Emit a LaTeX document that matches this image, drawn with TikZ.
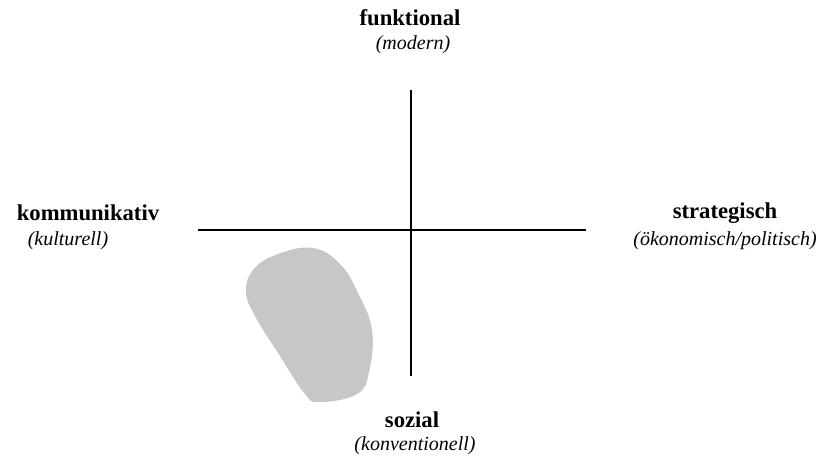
\documentclass[tikz,border=0pt]{standalone}
\usepackage{fontspec}
\setmainfont{Liberation Serif}
\usepackage{tikz}

\begin{document}
\begin{tikzpicture}[x=0.75pt, y=-0.75pt,
  every node/.style={font=\fontsize{15}{18}\selectfont, inner sep=0pt},
  pole/.style={font=\fontsize{17}{20}\selectfont\bfseries},
  sub/.style={font=\fontsize{15}{18}\selectfont\itshape}]
  \useasboundingbox (0,0) rectangle (820,458);

  % Poles
  \node[pole] (fun) at (410,18) {funktional};
  \node[sub] (mod) at (413,45) {(modern)};
  \node[pole] (kom) at (88,213) {kommunikativ};
  \node[sub] (kul) at (68,241) {(kulturell)};
  \node[pole] (str) at (725,213) {strategisch};
  \node[sub] (oek) at (725,241) {(ökonomisch/politisch)};
  \node[pole] (soz) at (412,420) {sozial};
  \node[sub] (kon) at (415,446) {(konventionell)};

  % Axes
  \coordinate (top) at (411,90);
  \coordinate (bottom) at (411,376);
  \coordinate (left) at (198,230);
  \coordinate (right) at (586,230);
  \draw[line width=0.8pt] (top) -- (bottom);
  \draw[line width=0.8pt] (left) -- (right);

  % Area
  \fill[black!22] plot[smooth cycle, tension=0.7] coordinates {
    (313,248) (340,264) (358,293) (372,330) (369,372) (357,394)
    (320,402) (305,394) (280,356) (255,316) (246,291) (254,269) (278,254)};
\end{tikzpicture}
\end{document}
